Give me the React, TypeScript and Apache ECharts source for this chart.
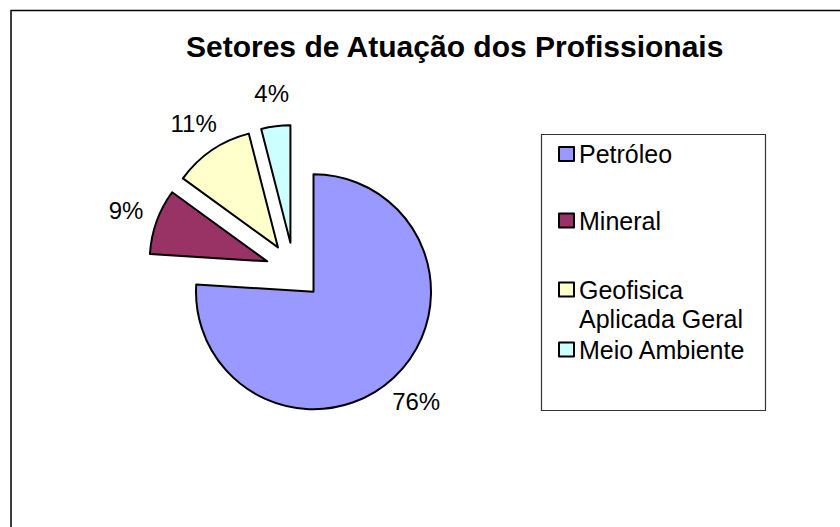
import React, { useEffect, useRef } from "react";
import * as echarts from "echarts";

const titleText = "Setores de Atuação dos Profissionais";
const categories = ["Petróleo", "Mineral", "Geofisica Aplicada Geral", "Meio Ambiente"];
const values = [76, 9, 11, 4];
const colors = ["#9999FF", "#993366", "#FFFFCC", "#CCFFFF"];

const FONT = "'Liberation Sans', Arial, sans-serif";

export default function App() {
  const ref = useRef<HTMLDivElement>(null);
  useEffect(() => {
    if (!ref.current) return;
    const chart = echarts.init(ref.current, undefined, { renderer: "svg" });

    const legendCenters = [154, 220.5, 289.5, 349.5];
    const lh = 29;
    const legends = categories.map((name, i) => {
      const multi = name.indexOf("Geofisica") === 0;
      return {
        show: true,
        orient: "vertical",
        left: 558,
        top: multi ? legendCenters[i] - 1.5 * lh : legendCenters[i] - lh / 2,
        padding: 0,
        data: [name],
        icon: "rect",
        itemWidth: 15,
        itemHeight: 14,
        selectedMode: false,
        formatter: (n: string) =>
          n.indexOf("Geofisica ") === 0 ? "\n" + n.replace("Geofisica ", "Geofisica\n") : n,
        textStyle: {
          fontFamily: FONT,
          fontSize: 25,
          color: "#000",
          lineHeight: lh,
        },
        itemStyle: { borderColor: "#000", borderWidth: 2 },
      };
    });

    const pieData = categories.map((name, i) => ({
      name,
      value: values[i],
      selected: true,
      itemStyle: { color: colors[i] },
    }));

    const labelData = categories.map((name, i) => ({
      name,
      value: values[i],
      selected: true,
    }));

    chart.setOption({
      animation: false,
      backgroundColor: "#fff",
      title: {
        text: titleText,
        left: 186,
        top: 31,
        padding: 0,
        textStyle: { fontFamily: FONT, fontSize: 30, fontWeight: "bold", color: "#000" },
      },
      legend: legends,
      graphic: [
        {
          type: "rect",
          shape: { x: 11, y: 10.5, width: 1000, height: 1000 },
          style: { fill: "none", stroke: "#000", lineWidth: 1.5 },
          silent: true,
          z: 0,
        },
        {
          type: "rect",
          shape: { x: 541.5, y: 134.5, width: 224, height: 276 },
          style: { fill: "none", stroke: "#333", lineWidth: 1.2 },
          silent: true,
          z: 0,
        },
      ],
      series: [
        {
          type: "pie",
          name: "main",
          center: [294, 271],
          radius: [0, 117.5],
          startAngle: 90,
          clockwise: true,
          selectedMode: "multiple",
          selectedOffset: 28.5,
          avoidLabelOverlap: false,
          silent: true,
          label: { show: false },
          labelLine: { show: false },
          emphasis: { disabled: true },
          itemStyle: { borderColor: "#000", borderWidth: 2 },
          select: { itemStyle: { borderColor: "#000", borderWidth: 2 } },
          data: pieData,
        },
        {
          type: "pie",
          name: "labels",
          center: [294, 271],
          radius: [0, 294],
          startAngle: 90,
          clockwise: true,
          selectedMode: "multiple",
          selectedOffset: 28.5,
          avoidLabelOverlap: false,
          silent: true,
          z: 1,
          itemStyle: { color: "rgba(0,0,0,0)", borderWidth: 0 },
          select: { itemStyle: { color: "rgba(0,0,0,0)", borderWidth: 0 } },
          emphasis: { disabled: true },
          label: {
            show: true,
            position: "inside",
            fontFamily: FONT,
            fontSize: 24,
            color: "#000",
            formatter: (p: any) => Math.round(p.percent) + "%",
          },
          labelLine: { show: false },
          data: labelData,
        },
      ],
    });
    return () => chart.dispose();
  }, []);
  return (
    <div
      ref={ref}
      style={{ position: "absolute", left: 0, top: 0, width: 840, height: 527, background: "#fff" }}
    />
  );
}
